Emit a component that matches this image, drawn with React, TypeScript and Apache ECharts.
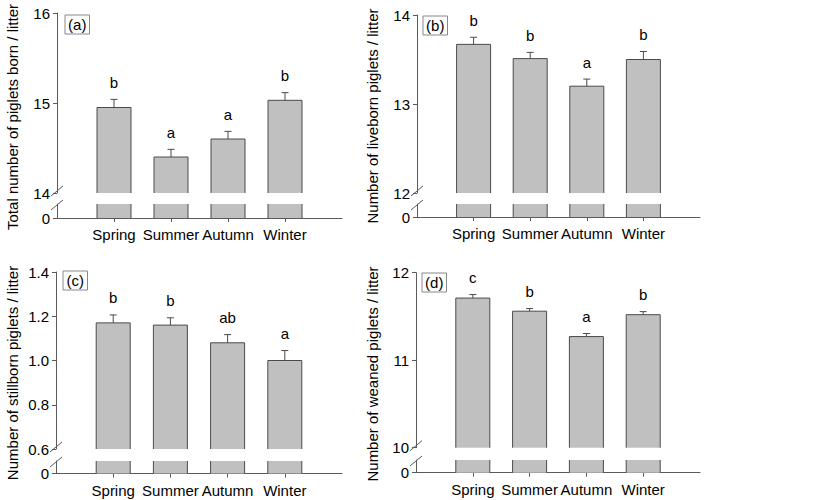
import React, { useEffect, useRef } from "react";
import * as echarts from "echarts";

// ---------- data ----------
const categories = ["Spring", "Summer", "Autumn", "Winter"];

const totalBornMean = [14.95, 14.4, 14.6, 15.03];
const totalBornSE = [0.09, 0.085, 0.085, 0.085];
const totalBornLetters = ["b", "a", "a", "b"];

const liveBornMean = [13.67, 13.51, 13.2, 13.5];
const liveBornSE = [0.08, 0.07, 0.08, 0.09];
const liveBornLetters = ["b", "b", "a", "b"];

const stillBornMean = [1.17, 1.16, 1.08, 1.0];
const stillBornSE = [0.036, 0.033, 0.037, 0.045];
const stillBornLetters = ["b", "b", "ab", "a"];

const weanedMean = [11.71, 11.56, 11.27, 11.52];
const weanedSE = [0.04, 0.03, 0.035, 0.035];
const weanedLetters = ["c", "b", "a", "b"];

const panelTags = ["(a)", "(b)", "(c)", "(d)"];
const panelTitles = [
  "Total number of piglets born / litter",
  "Number of liveborn piglets / litter",
  "Number of stillborn piglets / litter",
  "Number of weaned piglets / litter",
];
const axisMin = [14, 12, 0.6, 10];
const axisMax = [16, 14, 1.4, 12];
const axisInterval = [1, 1, 0.2, 1];
const axisDecimals = [0, 0, 1, 0];

const means = [totalBornMean, liveBornMean, stillBornMean, weanedMean];
const ses = [totalBornSE, liveBornSE, stillBornSE, weanedSE];
const letters = [totalBornLetters, liveBornLetters, stillBornLetters, weanedLetters];

// ---------- layout ----------
const layout = [
  { left: 57, width: 285, top: 13, height: 180, lowTop: 204, lowHeight: 14, titleX: 12, titleY: 117, boxX: 65, boxY: 15 },
  { left: 417, width: 283, top: 15, height: 178, lowTop: 204, lowHeight: 13, titleX: 372, titleY: 116, boxX: 423, boxY: 16 },
  { left: 56, width: 286, top: 272, height: 177, lowTop: 461, lowHeight: 12.5, titleX: 12, titleY: 373, boxX: 63, boxY: 271 },
  { left: 416, width: 284, top: 272.7, height: 175, lowTop: 460, lowHeight: 12.7, titleX: 372, titleY: 374, boxX: 422, boxY: 273 },
];

const FONT = "'Liberation Sans', Arial, Helvetica, sans-serif";
const AXIS_COLOR = "#5a5a5a";
const BAR_FILL = "#c0c0c0";
const BAR_BORDER = "#4a4a4a";
const BAR_W = 34;

function buildOption() {
  const axisData = ["", ...categories, ""];
  const grid: any[] = [];
  const xAxis: any[] = [];
  const yAxis: any[] = [];
  const series: any[] = [];
  const graphic: any[] = [];

  for (let i = 0; i < 4; i++) {
    const L = layout[i];
    const up = 2 * i;
    const lo = 2 * i + 1;
    grid.push({ left: L.left, top: L.top, width: L.width, height: L.height });
    grid.push({ left: L.left, top: L.lowTop, width: L.width, height: L.lowHeight });

    xAxis.push({
      type: "category",
      gridIndex: up,
      data: axisData,
      boundaryGap: false,
      show: false,
    });
    xAxis.push({
      type: "category",
      gridIndex: lo,
      data: axisData,
      boundaryGap: false,
      axisLine: { show: true, lineStyle: { color: AXIS_COLOR, width: 1 } },
      axisTick: {
        show: true,
        inside: false,
        length: 4,
        interval: (idx: number) => idx >= 1 && idx <= 4,
        lineStyle: { color: AXIS_COLOR },
      },
      axisLabel: {
        interval: 0,
        margin: 9,
        color: "#000",
        fontSize: 15,
        fontFamily: FONT,
      },
      splitLine: { show: false },
    });

    const dec = axisDecimals[i];
    yAxis.push({
      type: "value",
      gridIndex: up,
      min: axisMin[i],
      max: axisMax[i],
      interval: axisInterval[i],
      axisLine: { show: true, lineStyle: { color: AXIS_COLOR, width: 1 } },
      axisTick: { show: true, inside: false, length: 4, lineStyle: { color: AXIS_COLOR } },
      axisLabel: {
        margin: 7,
        color: "#000",
        fontSize: 15,
        fontFamily: FONT,
        formatter: (v: number) => v.toFixed(dec),
      },
      splitLine: { show: false },
    });
    yAxis.push({
      type: "value",
      gridIndex: lo,
      min: 0,
      max: axisMin[i],
      interval: axisMin[i],
      axisLine: { show: true, lineStyle: { color: AXIS_COLOR, width: 1 } },
      axisTick: { show: true, inside: false, length: 4, customValues: [0], lineStyle: { color: AXIS_COLOR } },
      axisLabel: {
        margin: 7,
        color: "#000",
        fontSize: 15,
        fontFamily: FONT,
        customValues: [0],
        showMaxLabel: false,
        formatter: (v: number) => (v === 0 ? "0" : ""),
      },
      splitLine: { show: false },
    });

    const barData = ["-", ...means[i], "-"];
    const fillStyle = { color: BAR_FILL, borderWidth: 0 };
    series.push({
      type: "bar",
      xAxisIndex: up,
      yAxisIndex: up,
      data: barData,
      barWidth: BAR_W,
      clip: true,
      itemStyle: fillStyle,
      silent: true,
    });
    series.push({
      type: "bar",
      xAxisIndex: lo,
      yAxisIndex: lo,
      data: barData,
      barWidth: BAR_W,
      clip: true,
      itemStyle: fillStyle,
      silent: true,
    });

    const lets = letters[i];
    const pts = means[i].map((m, k) => [k + 1, m, ses[i][k]]);
    // outlines + error bars + letters (upper segment)
    series.push({
      type: "custom",
      xAxisIndex: up,
      yAxisIndex: up,
      silent: true,
      z: 5,
      data: pts,
      renderItem: (params: any, api: any) => {
        const topPt = api.coord([api.value(0), api.value(1)]);
        const errPt = api.coord([api.value(0), api.value(1) + api.value(2)]);
        const cs = params.coordSys;
        const bottomY = cs.y + cs.height;
        const cx = topPt[0];
        const l = cx - BAR_W / 2;
        const r = cx + BAR_W / 2;
        const st = { stroke: BAR_BORDER, lineWidth: 1, fill: "none" };
        return {
          type: "group",
          children: [
            {
              type: "polyline",
              shape: { points: [[l, bottomY], [l, topPt[1]], [r, topPt[1]], [r, bottomY]] },
              style: st,
            },
            { type: "line", shape: { x1: cx, y1: topPt[1], x2: cx, y2: errPt[1] }, style: st },
            { type: "line", shape: { x1: cx - 3.5, y1: errPt[1], x2: cx + 3.5, y2: errPt[1] }, style: st },
            {
              type: "text",
              x: cx,
              y: errPt[1] - 17,
              style: {
                text: lets[params.dataIndex],
                fill: "#000",
                fontSize: 15,
                fontFamily: FONT,
                align: "center",
                verticalAlign: "middle",
              },
            },
          ],
        };
      },
    });
    // outlines (lower segment)
    series.push({
      type: "custom",
      xAxisIndex: lo,
      yAxisIndex: lo,
      silent: true,
      z: 5,
      data: pts,
      renderItem: (params: any, api: any) => {
        const basePt = api.coord([api.value(0), 0]);
        const cs = params.coordSys;
        const topY = cs.y;
        const cx = basePt[0];
        const l = cx - BAR_W / 2;
        const r = cx + BAR_W / 2;
        const st = { stroke: BAR_BORDER, lineWidth: 1 };
        return {
          type: "group",
          children: [
            { type: "line", shape: { x1: l, y1: topY, x2: l, y2: basePt[1] }, style: st },
            { type: "line", shape: { x1: r, y1: topY, x2: r, y2: basePt[1] }, style: st },
          ],
        };
      },
    });

    // axis break slashes
    const ax = L.left;
    const y1 = L.top + L.height - 2;
    const y2 = L.lowTop + 1;
    const slashStyle = { stroke: AXIS_COLOR, lineWidth: 1 };
    graphic.push({ type: "line", shape: { x1: ax - 6, y1: y1 + 5, x2: ax + 6, y2: y1 - 5 }, style: slashStyle, z: 10 });
    graphic.push({ type: "line", shape: { x1: ax - 6, y1: y2 + 5, x2: ax + 6, y2: y2 - 5 }, style: slashStyle, z: 10 });

    // panel tag box
    graphic.push({
      type: "rect",
      shape: { x: L.boxX, y: L.boxY, width: 24.5, height: 19 },
      style: { fill: "#fff", stroke: "#888", lineWidth: 1 },
      z: 10,
    });
    graphic.push({
      type: "text",
      x: L.boxX + 12.25,
      y: L.boxY + 9.5,
      style: {
        text: panelTags[i],
        fill: "#000",
        fontSize: 15,
        fontFamily: FONT,
        align: "center",
        verticalAlign: "middle",
      },
      z: 11,
    });

    // y-axis title
    graphic.push({
      type: "text",
      x: L.titleX,
      y: L.titleY,
      rotation: Math.PI / 2,
      style: {
        text: panelTitles[i],
        fill: "#000",
        fontSize: 15,
        fontFamily: FONT,
        align: "center",
        verticalAlign: "middle",
      },
      z: 10,
    });
  }

  return {
    animation: false,
    backgroundColor: "#fff",
    grid,
    xAxis,
    yAxis,
    series,
    graphic,
  };
}

export default function App() {
  const ref = useRef<HTMLDivElement>(null);
  useEffect(() => {
    if (!ref.current) return;
    const chart = echarts.init(ref.current, undefined, { renderer: "svg" });
    chart.setOption(buildOption() as any);
    return () => chart.dispose();
  }, []);
  return (
    <div
      ref={ref}
      style={{ position: "fixed", left: 0, top: 0, width: 819, height: 500, background: "#fff" }}
    />
  );
}
